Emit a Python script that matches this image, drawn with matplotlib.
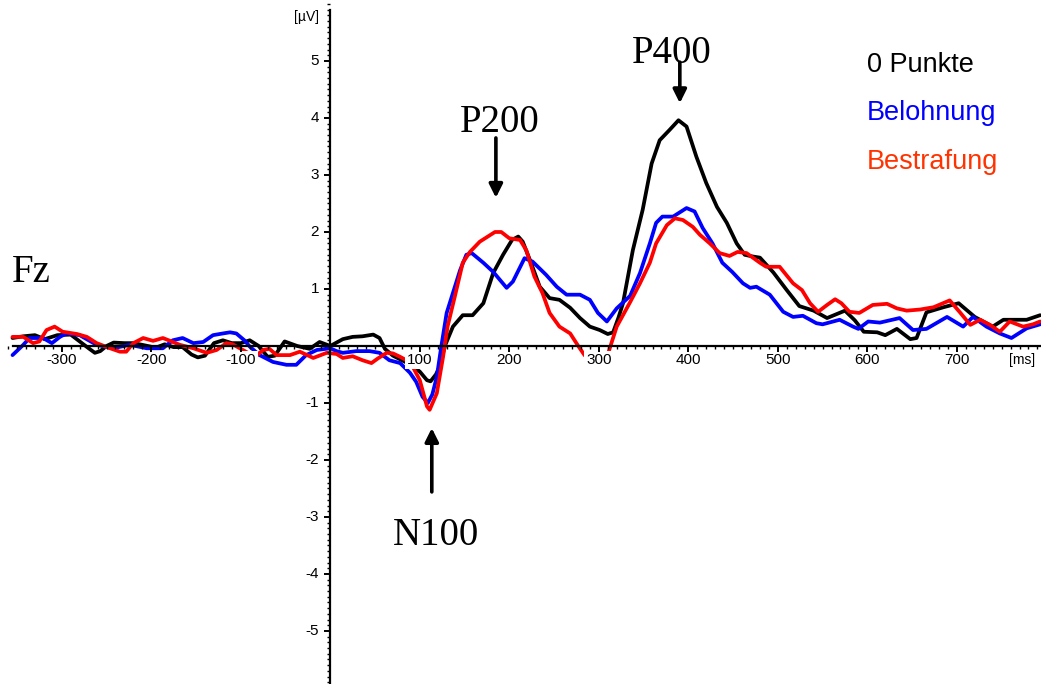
import numpy as np
import matplotlib.pyplot as plt
from matplotlib.ticker import MultipleLocator

# Zeitpunkte (ms) und Amplituden (uV)
t_null = [-355, -343, -330, -319, -305, -290, -280, -270, -263, -257, -250, -242, -230,
          -220, -210, -195, -185, -175, -165, -155, -148, -140, -130, -120, -110, -100,
          -90, -80, -70, -62, -51, -37, -23, -12, 0, 14, 25, 36, 48, 55, 61, 70, 80, 90,
          100, 108, 112, 118, 122, 128, 137, 148, 159, 171, 182, 193, 203, 210, 215, 223,
          234, 245, 256, 268, 279, 290, 301, 310, 316, 322, 327, 338, 349, 359, 368, 379,
          389, 398, 409, 420, 432, 443, 454, 463, 472, 480, 495, 510, 524, 540, 555, 575,
          586, 596, 611, 620, 633, 648, 655, 666, 685, 702, 720, 740, 752, 778, 793]
v_null = [0.14, 0.17, 0.19, 0.12, 0.19, 0.2, 0.08, -0.04, -0.12, -0.09, 0.0, 0.06, 0.05,
          0.05, 0.02, -0.03, 0.03, -0.02, -0.02, -0.15, -0.2, -0.17, 0.05, 0.1, 0.05, 0.05,
          0.1, 0.0, -0.19, -0.17, 0.08, 0.0, -0.05, 0.07, 0.0, 0.12, 0.16, 0.17, 0.2, 0.14,
          -0.05, -0.17, -0.25, -0.33, -0.45, -0.6, -0.62, -0.5, -0.37, 0.0, 0.34, 0.54,
          0.54, 0.75, 1.28, 1.6, 1.86, 1.92, 1.83, 1.51, 1.04, 0.84, 0.81, 0.67, 0.49, 0.34,
          0.28, 0.21, 0.24, 0.5, 0.75, 1.68, 2.39, 3.2, 3.61, 3.79, 3.96, 3.85, 3.32, 2.86,
          2.44, 2.16, 1.8, 1.6, 1.57, 1.55, 1.29, 0.98, 0.7, 0.62, 0.49, 0.62, 0.45, 0.25,
          0.24, 0.19, 0.3, 0.12, 0.14, 0.59, 0.68, 0.75, 0.51, 0.34, 0.46, 0.46, 0.54]

t_bel = [-355, -343, -336, -321, -311, -302, -295, -280, -270, -261, -243, -224, -205,
         -187, -176, -165, -153, -142, -131, -120, -112, -105, -96, -90, -79, -64, -49,
         -38, -27, -15, 0, 7, 14, 29, 44, 55, 66, 78, 89, 96, 103, 109, 114, 119, 124, 130,
         137, 145, 152, 158, 171, 182, 197, 204, 217, 226, 241, 253, 264, 279, 290, 299,
         309, 320, 335, 346, 357, 364, 371, 383, 398, 407, 416, 427, 438, 449, 461, 469,
         476, 491, 506, 517, 528, 543, 550, 569, 584, 590, 601, 614, 636, 651, 666, 689,
         707, 718, 733, 748, 761, 778, 793]
v_bel = [-0.16, 0.02, 0.14, 0.14, 0.05, 0.16, 0.22, 0.19, 0.1, 0.02, -0.04, 0.02, -0.04,
         -0.04, 0.1, 0.14, 0.05, 0.07, 0.19, 0.22, 0.24, 0.22, 0.1, -0.01, -0.16, -0.28,
         -0.33, -0.33, -0.16, -0.07, -0.04, -0.09, -0.12, -0.09, -0.09, -0.12, -0.25, -0.3,
         -0.47, -0.63, -0.89, -1.0, -0.85, -0.54, -0.01, 0.58, 0.93, 1.33, 1.6, 1.63, 1.46,
         1.3, 1.02, 1.13, 1.54, 1.48, 1.25, 1.04, 0.9, 0.9, 0.81, 0.58, 0.43, 0.66, 0.88,
         1.28, 1.8, 2.16, 2.27, 2.27, 2.42, 2.36, 2.07, 1.8, 1.46, 1.3, 1.1, 1.02, 1.04,
         0.9, 0.6, 0.51, 0.53, 0.4, 0.38, 0.46, 0.34, 0.3, 0.43, 0.41, 0.49, 0.28, 0.3,
         0.51, 0.34, 0.51, 0.34, 0.22, 0.14, 0.31, 0.38]

t_bes = [-355, -343, -332, -325, -317, -308, -299, -283, -272, -261, -246, -235, -228,
         -220, -209, -198, -187, -179, -168, -153, -138, -127, -116, -109, -100, -92, -84,
         -75, -68, -60, -45, -34, -19, -4, 7, 14, 25, 36, 46, 53, 63, 70, 78, 85, 92, 100,
         108, 111, 119, 126, 131, 139, 148, 156, 167, 176, 184, 191, 200, 212, 219, 228,
         237, 245, 256, 268, 277, 284, 293, 303, 311, 320, 335, 346, 357, 364, 376, 385,
         394, 405, 413, 424, 435, 446, 455, 465, 480, 487, 502, 517, 527, 536, 545, 555,
         564, 571, 580, 591, 606, 622, 633, 644, 659, 674, 692, 704, 715, 726, 737, 748,
         759, 774, 785, 793]
v_bes = [0.16, 0.16, 0.05, 0.08, 0.28, 0.34, 0.25, 0.21, 0.16, 0.05, -0.04, -0.1, -0.1,
         0.05, 0.14, 0.09, 0.14, 0.09, 0.02, -0.04, -0.12, -0.07, 0.05, 0.03, -0.05, -0.12,
         -0.19, -0.07, -0.05, -0.16, -0.16, -0.1, -0.21, -0.12, -0.14, -0.21, -0.18, -0.25,
         -0.3, -0.22, -0.12, -0.13, -0.19, -0.25, -0.36, -0.6, -1.06, -1.12, -0.83, -0.19,
         0.34, 0.86, 1.46, 1.65, 1.83, 1.92, 2.0, 2.0, 1.89, 1.86, 1.68, 1.22, 0.93, 0.58,
         0.34, 0.22, 0.0, -0.16, -0.28, -0.28, -0.1, 0.34, 0.77, 1.1, 1.46, 1.8, 2.12, 2.24,
         2.21, 2.09, 1.95, 1.8, 1.63, 1.58, 1.65, 1.63, 1.46, 1.39, 1.39, 1.1, 0.98, 0.75,
         0.6, 0.72, 0.82, 0.75, 0.6, 0.58, 0.72, 0.74, 0.66, 0.62, 0.64, 0.68, 0.8, 0.58,
         0.37, 0.46, 0.37, 0.25, 0.43, 0.34, 0.38, 0.43]

xticks = [-300, -200, -100, 100, 200, 300, 400, 500, 600, 700]
yticks = [-5, -4, -3, -2, -1, 1, 2, 3, 4, 5]
namen = ['0 Punkte', 'Belohnung', 'Bestrafung']

sans = 'Liberation Sans'
serif = 'Liberation Serif'

fig = plt.figure(figsize=(10.41, 6.84), dpi=100)
ax = fig.add_axes([0, 0, 1, 1])
ax.set_xlim(-369, 794)
ax.set_ylim(-5.93, 6.07)
ax.set_axisbelow(False)

stil = dict(lw=2.7, solid_joinstyle='round', solid_capstyle='round')
ax.plot(t_null, v_null, color='black', zorder=2.0, **stil)
ax.plot(t_bel, v_bel, color='#0000ff', zorder=2.05, **stil)
ax.plot(t_bes, v_bes, color='#ff0000', zorder=2.1, **stil)

# Achsen durch den Ursprung
for s in ['top', 'right']:
    ax.spines[s].set_visible(False)
ax.spines['left'].set_position(('data', 0))
ax.spines['bottom'].set_position(('data', 0))
ax.spines['left'].set_bounds(-5.93, 5.9)
ax.spines['bottom'].set_bounds(-355, 794)
ax.spines['left'].set_linewidth(1.6)
ax.spines['bottom'].set_linewidth(1.6)

ax.set_xticks(xticks + [0])
ax.set_yticks(yticks + [0])
ax.xaxis.set_minor_locator(MultipleLocator(10))
ax.yaxis.set_minor_locator(MultipleLocator(0.1))
ax.set_xticklabels([])
ax.set_yticklabels([])
ax.tick_params(which='major', direction='out', length=4.5, width=1.4)
ax.tick_params(which='minor', direction='out', length=2.5, width=1.0)

# Beschriftungen mit weissem Hintergrund (verdecken die Kurven wie im Original)
box = dict(facecolor='white', edgecolor='none', pad=1.5)
for t in xticks:
    ax.annotate(str(t), (t, 0), xytext=(0, -5), textcoords='offset points',
                ha='center', va='top', fontsize=11, family=sans, bbox=box, zorder=2.2)
for v in yticks:
    ax.annotate(str(v), (0, v), xytext=(-8, 0), textcoords='offset points',
                ha='right', va='center', fontsize=11, family=sans, zorder=2.2)
ax.annotate('[ms]', (794, 0), xytext=(-4, -5), textcoords='offset points',
            ha='right', va='top', fontsize=10, family=sans, bbox=box, zorder=2.2)
ax.annotate('[µV]', (0, 5.77), xytext=(-8, 0), textcoords='offset points',
            ha='right', va='center', fontsize=10, family=sans)

# Komponenten
pfeil = dict(arrowstyle='-|>,head_length=0.8,head_width=0.4', lw=2.6, color='black',
             shrinkA=0, shrinkB=0, mutation_scale=10)
ax.annotate('', xy=(185, 2.6), xytext=(185, 3.65), arrowprops=pfeil)
ax.annotate('', xy=(390.5, 4.26), xytext=(390.5, 4.98), arrowprops=pfeil)
ax.annotate('', xy=(113.4, -1.44), xytext=(113.4, -2.56), arrowprops=pfeil)
ax.text(189, 3.75, 'P200', ha='center', va='baseline', fontsize=28, family=serif)
ax.text(381.5, 4.96, 'P400', ha='center', va='baseline', fontsize=28, family=serif)
ax.text(118, -3.49, 'N100', ha='center', va='baseline', fontsize=28, family=serif)
ax.text(0.0115, 0.588, 'Fz', transform=ax.transAxes, ha='left', va='baseline',
        fontsize=28, family=serif)

# Legende als Text
farben = ['black', '#0000ff', '#ff3300']
ypos = [0.895, 0.825, 0.753]
for name, c, y in zip(namen, farben, ypos):
    ax.text(0.833, y, name, transform=ax.transAxes, color=c, ha='left',
            va='baseline', fontsize=19.5, family=sans)

fig.savefig('out.png', dpi=100)
